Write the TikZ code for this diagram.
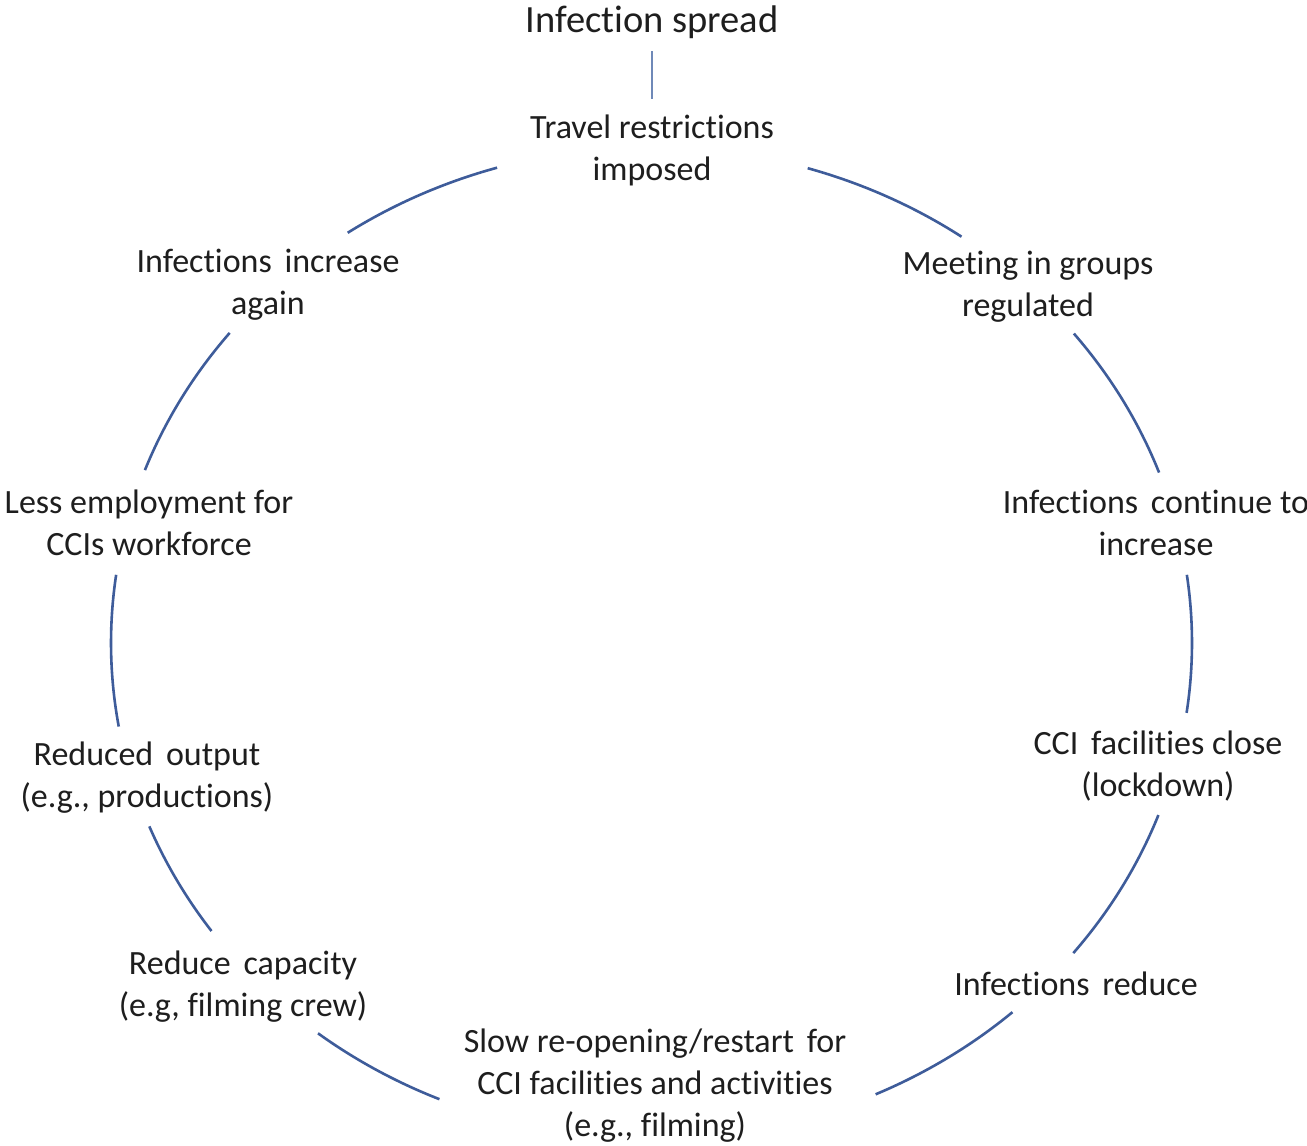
\documentclass[tikz,border=0pt]{standalone}
\usepackage{fontspec}
\setmainfont{Carlito}[Ligatures={NoCommon}]
\newcommand\dblsp{\hspace{0.15em}}
\definecolor{ringblue}{HTML}{3E5C9A}
\definecolor{stemblue}{HTML}{6F89B8}
\definecolor{txt}{HTML}{1E1E1E}
\begin{document}
\begin{tikzpicture}[x=1pt,y=1pt,
  lbl/.style={align=center, text=txt, inner sep=0pt, font=\fontsize{34}{42}\selectfont},
  ttl/.style={anchor=base, text=txt, inner sep=0pt, font=\fontsize{38.5}{46}\selectfont},
  ring/.style={draw=ringblue, line width=2.6pt},
  stem/.style={draw=stemblue, line width=1.5pt}]
\useasboundingbox (0,0) rectangle (1307,1146);
\fill[white] (0,0) rectangle (1307,1146);

% labels (centre y = 1146 - pixel y)
\node[ttl] (title) at (652,1113) {Infection spread};
\node[lbl] (travel) at (652,994.4) {\strut Travel restrictions\\imposed\strut};
\node[lbl] (meet) at (1028,858.4) {\strut Meeting in groups\\regulated\strut};
\node[lbl] (cont) at (1156,619.4) {\strut Infections\dblsp{} continue to\\increase\strut};
\node[lbl] (close) at (1158,378.4) {\strut CCI\dblsp{} facilities close\\(lockdown)\strut};
\node[lbl] (reduce) at (1076,158.4) {\strut Infections\dblsp{} reduce\strut};
\node[lbl] (slow) at (655,59.4) {\strut Slow re-opening/restart\dblsp{} for\\CCI facilities and activities\\(e.g., filming)\strut};
\node[lbl] (capac) at (243,158.4) {\strut Reduce\dblsp{} capacity\\(e.g, filming crew)\strut};
\node[lbl] (output) at (147,367.4) {\strut Reduced\dblsp{} output\\(e.g., productions)\strut};
\node[lbl] (employ) at (149,619.4) {\strut Less employment for\\CCIs workforce\strut};
\node[lbl] (again) at (268,860.4) {\strut Infections\dblsp{} increase\\again\strut};

% stem from title to first label
\draw[stem, shorten <=12pt, shorten >=10pt] (title.south) -- (travel.north);

% ring of elliptical arcs
\coordinate (O) at (651.5,503);
\path (O) ++(55:540.5pt and 496pt) coordinate (a1);
\path (O) ++(20.1:540.5pt and 496pt) coordinate (a2);
\path (O) ++(-8.1:540.5pt and 496pt) coordinate (a3);
\path (O) ++(-38.7:540.5pt and 496pt) coordinate (a4);
\path (O) ++(-65.5:540.5pt and 496pt) coordinate (a5);
\path (O) ++(-128.1:540.5pt and 496pt) coordinate (a6);
\path (O) ++(-158.3:540.5pt and 496pt) coordinate (a7);
\path (O) ++(172.1:540.5pt and 496pt) coordinate (a8);
\path (O) ++(141.3:540.5pt and 496pt) coordinate (a9);
\path (O) ++(106.6:540.5pt and 496pt) coordinate (a10);

\draw[ring] (a1) arc[start angle=55, end angle=73.2, x radius=540.5pt, y radius=496pt];
\draw[ring] (a2) arc[start angle=20.1, end angle=38.6, x radius=540.5pt, y radius=496pt];
\draw[ring] (a3) arc[start angle=-8.1, end angle=7.9, x radius=540.5pt, y radius=496pt];
\draw[ring] (a4) arc[start angle=-38.7, end angle=-20.3, x radius=540.5pt, y radius=496pt];
\draw[ring] (a5) arc[start angle=-65.5, end angle=-48.1, x radius=540.5pt, y radius=496pt];
\draw[ring] (a6) arc[start angle=-128.1, end angle=-113.1, x radius=540.5pt, y radius=496pt];
\draw[ring] (a7) arc[start angle=-158.3, end angle=-144.5, x radius=540.5pt, y radius=496pt];
\draw[ring] (a8) arc[start angle=172.1, end angle=189.7, x radius=540.5pt, y radius=496pt];
\draw[ring] (a9) arc[start angle=141.3, end angle=159.6, x radius=540.5pt, y radius=496pt];
\draw[ring] (a10) arc[start angle=106.6, end angle=124.2, x radius=540.5pt, y radius=496pt];
\end{tikzpicture}
\end{document}
